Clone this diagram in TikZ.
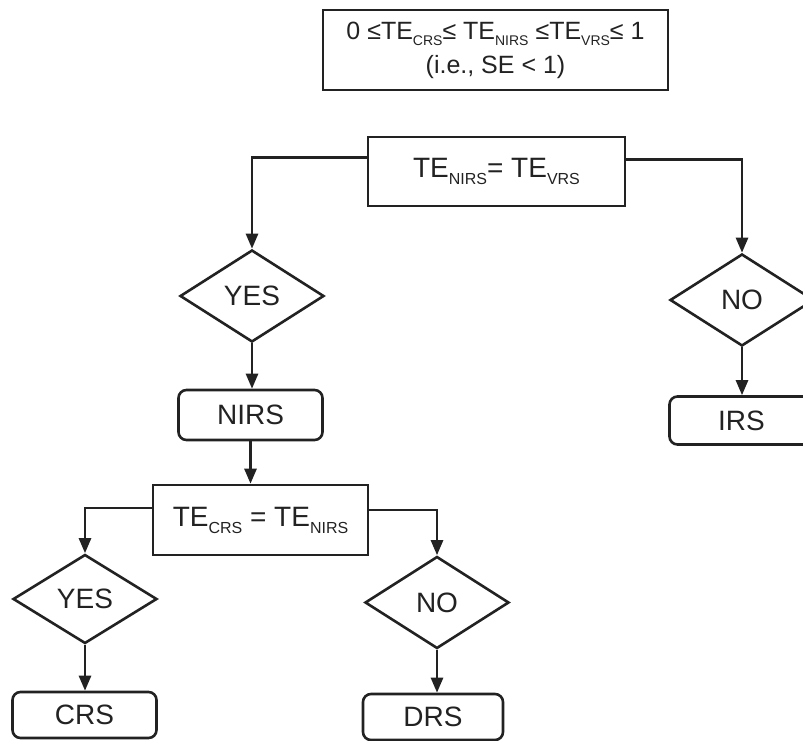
\documentclass[tikz,border=0pt]{standalone}
\usepackage{fontspec}
\setmainfont{Liberation Sans}
\usetikzlibrary{shapes.geometric,arrows.meta}
\definecolor{ink}{HTML}{222222}
\newcommand{\lowsub}[1]{\raisebox{-7pt}{\fontsize{16}{16}\selectfont #1}}
\newcommand{\lowsubs}[1]{\raisebox{-6pt}{\fontsize{14}{14}\selectfont #1}}
\begin{document}
\begin{tikzpicture}[x=1pt,y=-1pt,
    every node/.style={text=ink,font=\fontsize{28}{32}\selectfont},
    box/.style={draw=ink,line width=2.6pt,rectangle,inner sep=0pt},
    rbox/.style={box,rounded corners=8pt,minimum width=144pt,minimum height=48pt},
    dia/.style={draw=ink,line width=2.6pt,diamond,aspect=1.55,inner sep=0pt,minimum width=144pt,minimum height=92pt},
    arr/.style={draw=ink,line width=2.6pt,-{Triangle[length=15pt,width=12pt]}}]
                \useasboundingbox (0,0) rectangle (803,741);
                \node[box,minimum width=345pt,minimum height=80pt,align=center,font=\fontsize{25}{34}\selectfont] (top) at (495.5,50)
                    {0 ≤TE\lowsubs{CRS}≤ TE\lowsubs{NIRS} ≤TE\lowsubs{VRS}≤ 1\\(i.e., SE < 1)};
                \node[box,minimum width=257pt,minimum height=69pt] (q1) at (496.5,171.5) {TE\lowsub{NIRS}= TE\lowsub{VRS}};
                \node[dia] (yes1) at (252,296) {YES};
                \node[dia] (no1) at (742,300) {NO};
                \node[rbox,minimum height=50pt] (nirs) at (250.5,415) {NIRS};
                \node[rbox] (irs) at (741.5,420.5) {IRS};
                \node[box,minimum width=215pt,minimum height=70pt] (q2) at (260.5,520) {TE\lowsub{CRS} = TE\lowsub{NIRS}};
                \node[dia,minimum height=89pt] (yes2) at (85,599) {YES};
                \node[dia] (no2) at (437,602.5) {NO};
                \node[rbox,minimum height=46pt] (crs) at (84.5,715) {CRS};
                \node[rbox,minimum width=140pt,minimum height=46pt] (drs) at (433,717) {DRS};

                \draw[arr] ([yshift=14pt]q1.west) -| (yes1.north);
                \draw[arr] ([yshift=12pt]q1.east) -| (no1.north);
                \draw[arr] (yes1.south) -- (nirs.north -| yes1.south);
                \draw[arr] (no1.south) -- (irs.north -| no1.south);
                \draw[arr] (nirs.south) -- (q2.north -| nirs.south);
                \draw[arr] ([yshift=12pt]q2.west) -| (yes2.north);
                \draw[arr] ([yshift=10pt]q2.east) -| (no2.north);
                \draw[arr] (yes2.south) -- (crs.north -| yes2.south);
                \draw[arr] (no2.south) -- (drs.north -| no2.south);
            \end{tikzpicture}
\end{document}
